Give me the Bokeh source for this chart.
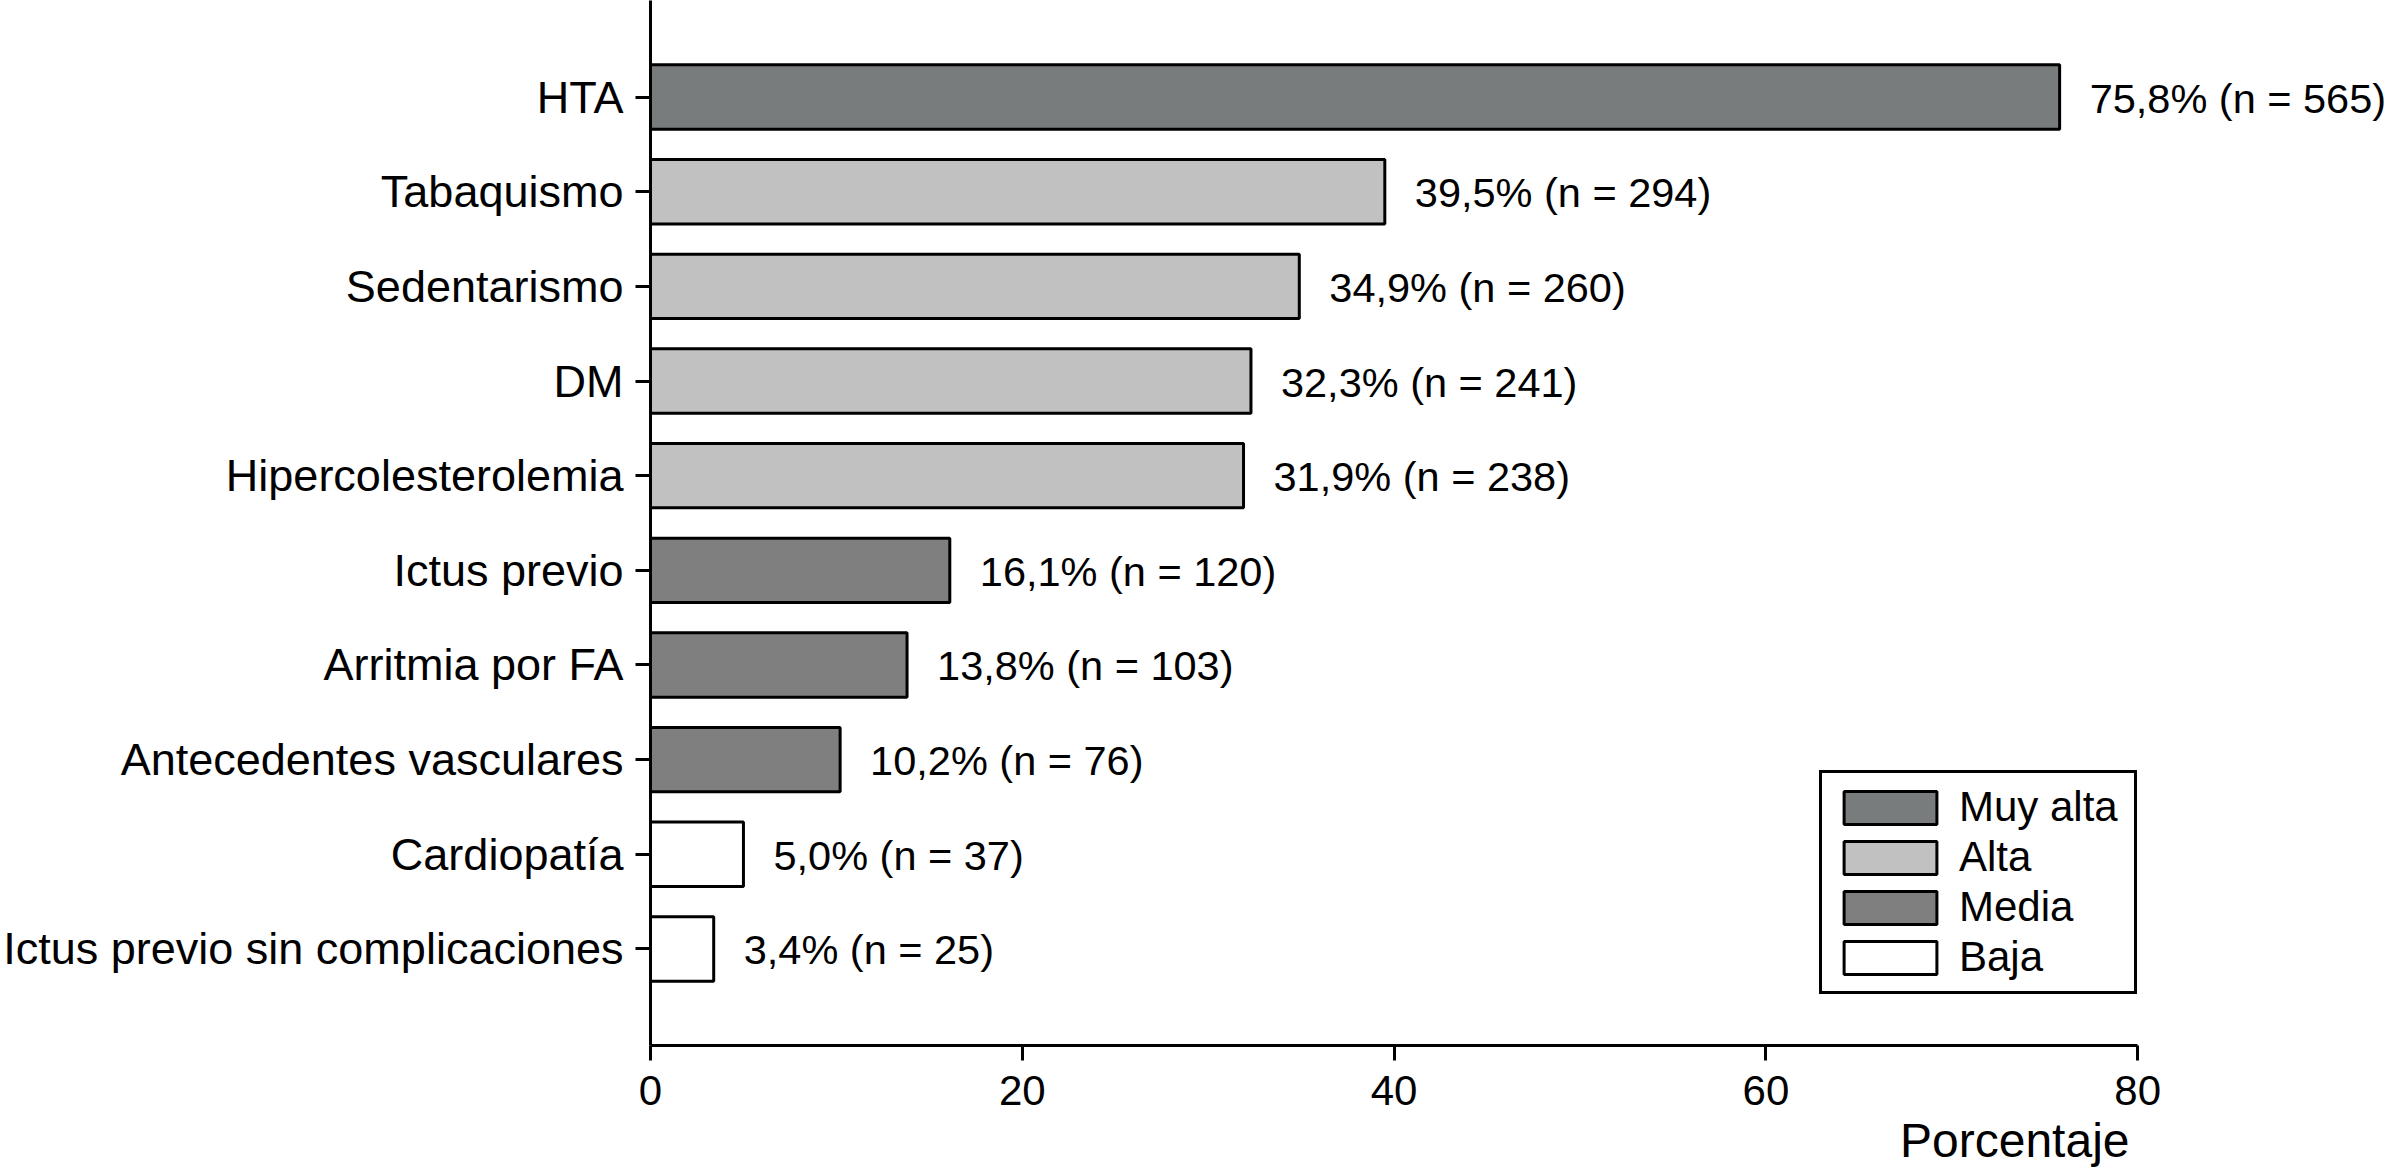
from bokeh.plotting import figure
from bokeh.models import FactorRange, Range1d, FixedTicker, Title, ColumnDataSource
from bokeh.core.properties import value
from bokeh.embed import file_html
from bokeh.resources import INLINE

categories = ["HTA", "Tabaquismo", "Sedentarismo", "DM", "Hipercolesterolemia",
              "Ictus previo", "Arritmia por FA", "Antecedentes vasculares",
              "Cardiopatía", "Ictus previo sin complicaciones"]
percentages = [75.8, 39.5, 34.9, 32.3, 31.9, 16.1, 13.8, 10.2, 5.0, 3.4]
counts = [565, 294, 260, 241, 238, 120, 103, 76, 37, 25]
tiers = ["Muy alta", "Alta", "Alta", "Alta", "Alta", "Media", "Media", "Media", "Baja", "Baja"]
tier_names = ["Muy alta", "Alta", "Media", "Baja"]
tier_colors = ["#797c7c", "#c1c1c1", "#7f7f7f", "#ffffff"]
x_ticks = [0, 20, 40, 60, 80]
x_label = "Porcentaje"

FONT = "Liberation Sans"

value_labels = [f"{v:.1f}".replace(".", ",") + f"% (n = {n})" for v, n in zip(percentages, counts)]

p = figure(width=2388, height=1174,
           y_range=FactorRange(factors=categories[::-1], range_padding=0.104),
           x_range=Range1d(0, 93.49),
           output_backend="svg", toolbar_location=None,
           min_border_left=649, min_border_right=0, min_border_top=0, min_border_bottom=129)

for name, color in zip(tier_names, tier_colors):
    idx = [i for i, t in enumerate(tiers) if t == name]
    src = ColumnDataSource(dict(y=[categories[i] for i in idx], x=[percentages[i] for i in idx]))
    p.hbar(y="y", right="x", left=0, height=0.68, fill_color=color, line_color="black",
           line_width=3, source=src, legend_label=name)

lab_src = ColumnDataSource(dict(x=percentages, y=categories, t=value_labels))
p.text(x="x", y="y", text="t", source=lab_src, x_offset=30, y_offset=1,
       text_baseline="middle", text_align="left", text_font=value(FONT),
       text_font_size="41.5px", text_color="black")

p.xgrid.visible = False
p.ygrid.visible = False
p.outline_line_color = None

xa = p.xaxis[0]
xa.ticker = FixedTicker(ticks=x_ticks)
xa.bounds = (0, 80)
xa.axis_line_width = 3
xa.major_tick_line_width = 3
xa.major_tick_out = 15
xa.major_tick_in = 0
xa.minor_tick_line_color = None
xa.major_label_text_font = FONT
xa.major_label_text_font_size = "42px"
xa.major_label_text_color = "black"
xa.major_label_standoff = 15
xa.axis_line_color = "black"
xa.major_tick_line_color = "black"

ya = p.yaxis[0]
ya.axis_line_width = 3
ya.major_tick_line_width = 3
ya.major_tick_out = 15
ya.major_tick_in = 0
ya.minor_tick_line_color = None
ya.major_label_text_font = FONT
ya.major_label_text_font_size = "45px"
ya.major_label_text_color = "black"
ya.major_label_standoff = 12
ya.axis_line_color = "black"
ya.major_tick_line_color = "black"

p.add_layout(Title(text=x_label, align="right", offset=259, standoff=9,
                   text_font=FONT, text_font_size="48px", text_font_style="normal",
                   text_color="black"), "below")

lg = p.legend[0]
lg.location = (1169, 51)
lg.border_line_color = "black"
lg.border_line_width = 3
lg.border_line_alpha = 1
lg.background_fill_color = "white"
lg.background_fill_alpha = 1
lg.glyph_width = 116
lg.glyph_height = 41
lg.label_standoff = 11
lg.label_width = 165
lg.label_text_font = FONT
lg.label_text_font_size = "42px"
lg.label_text_color = "black"
lg.spacing = 2
lg.padding = 10
lg.margin = 0

open("out.html", "w").write(file_html(p, INLINE))
